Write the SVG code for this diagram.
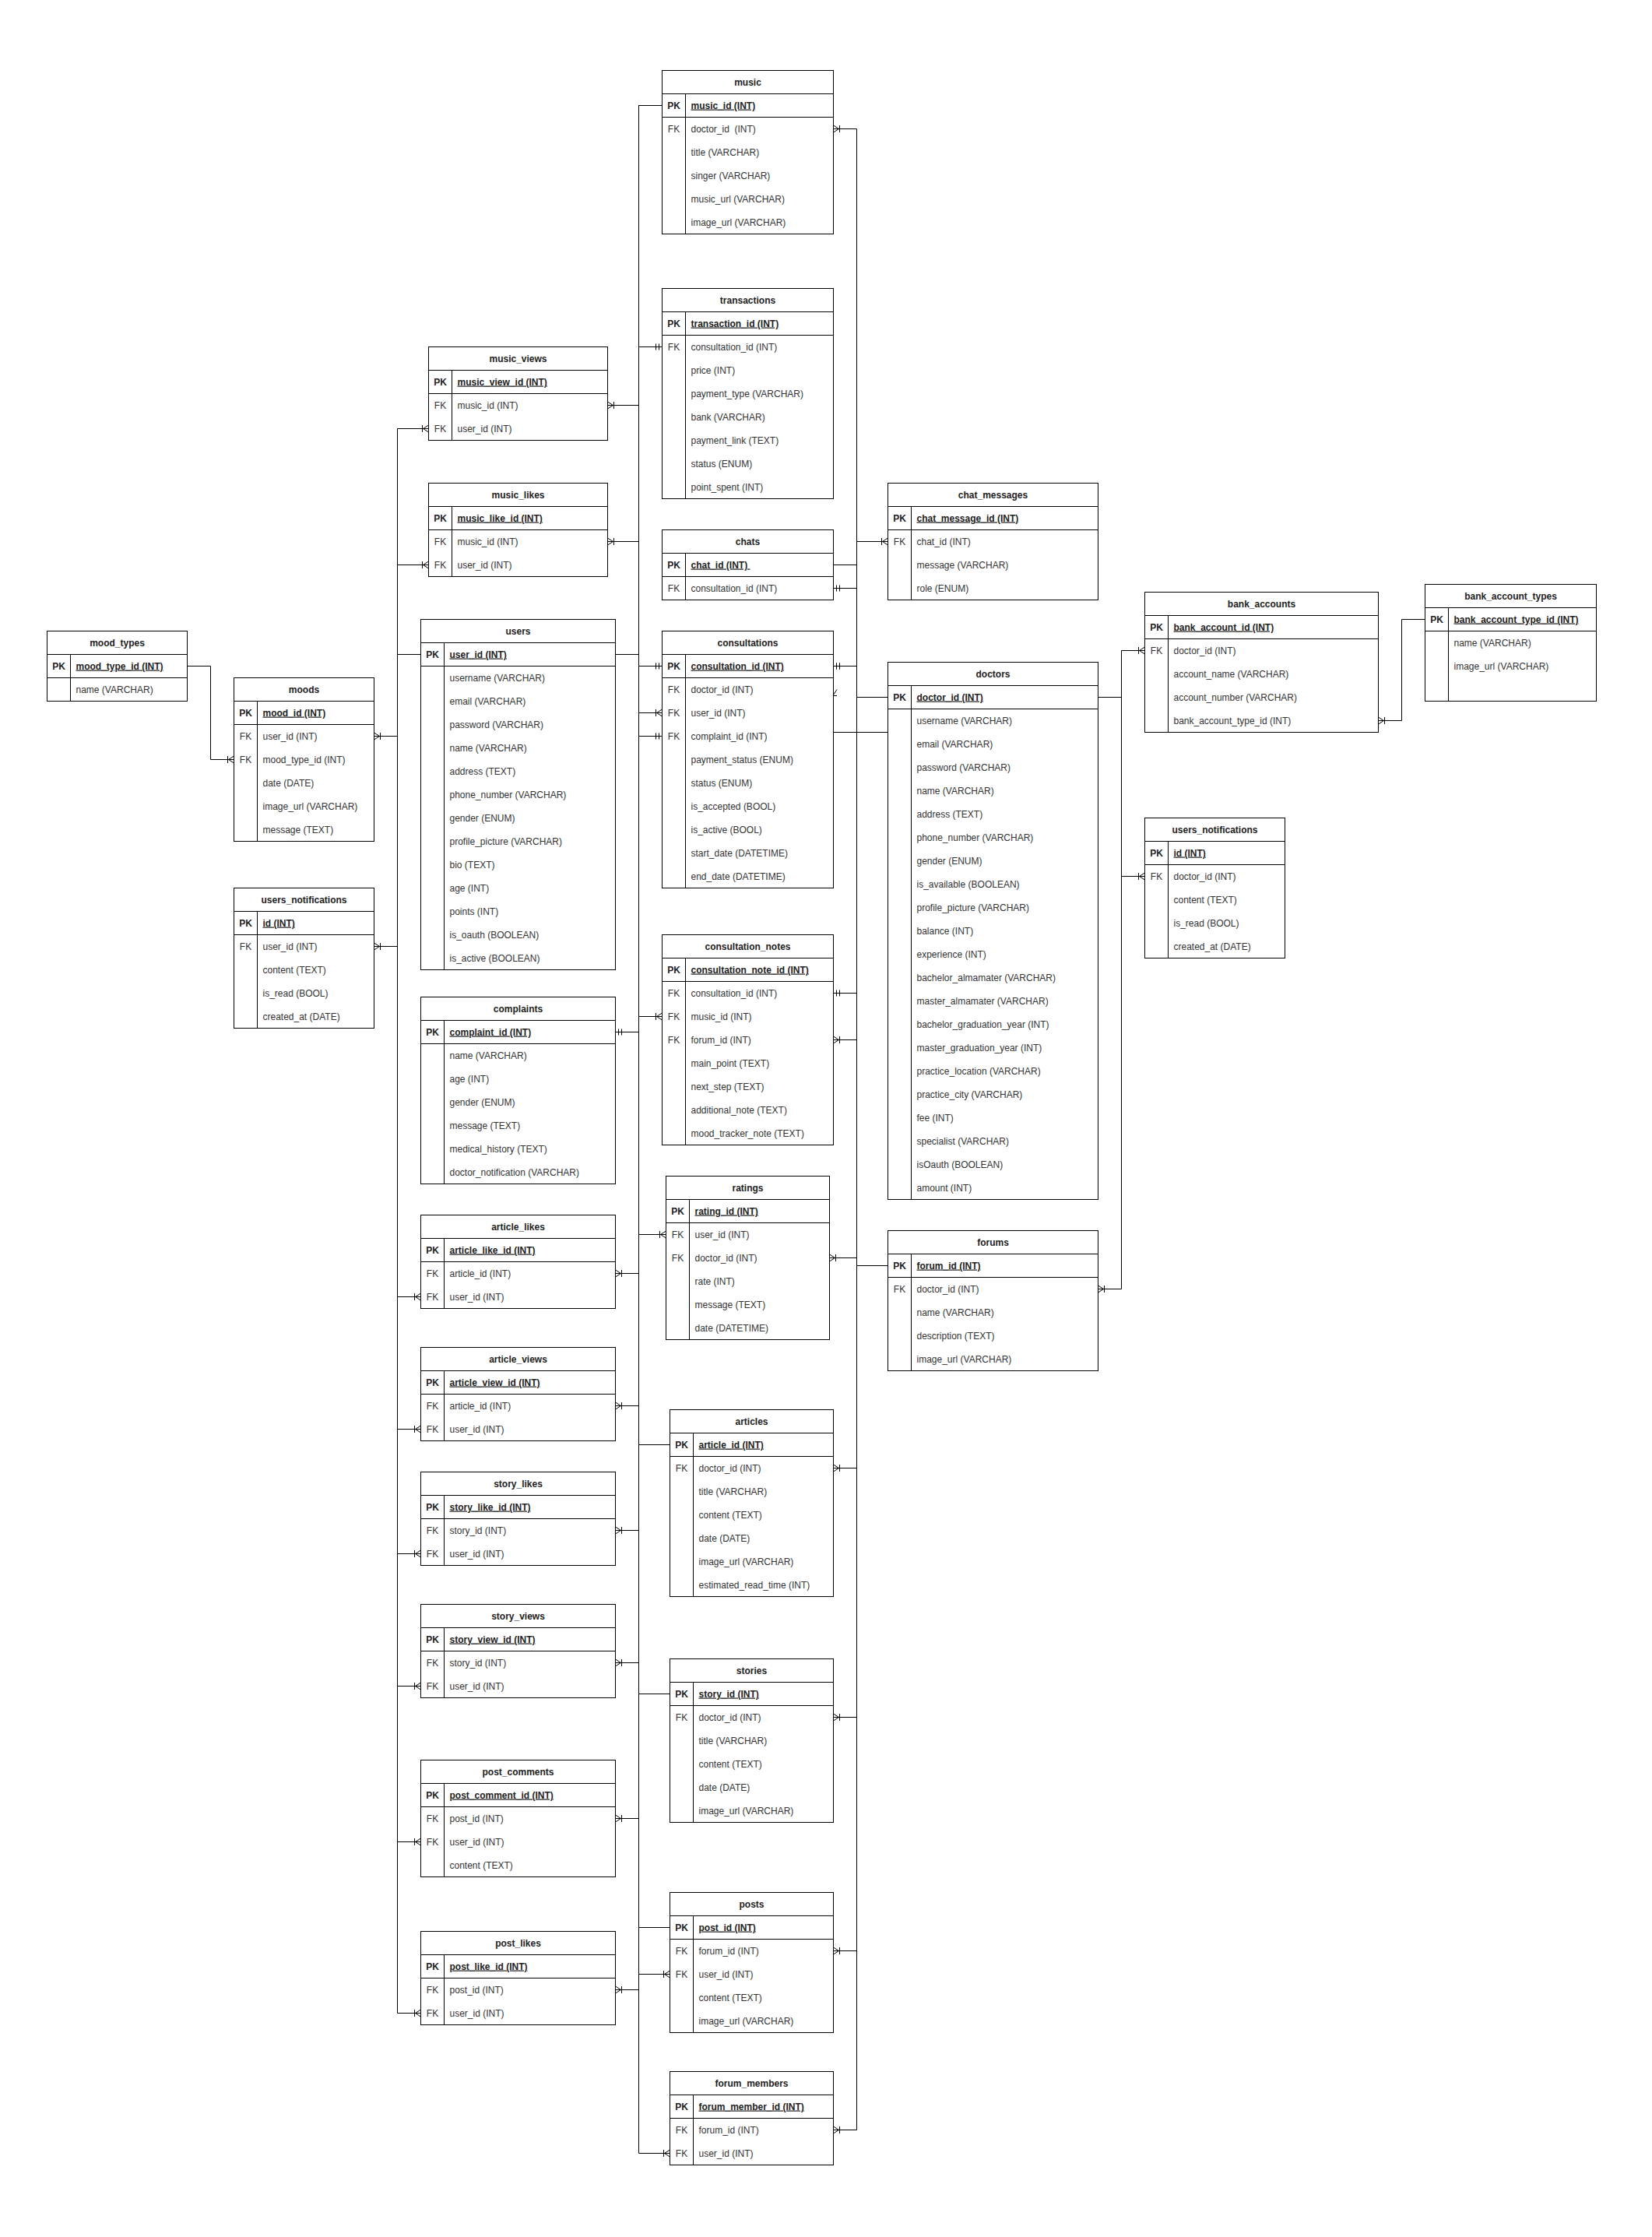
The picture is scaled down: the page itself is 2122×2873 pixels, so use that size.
<svg xmlns="http://www.w3.org/2000/svg" width="2122" height="2873" viewBox="0 0 2122 2873">
  <style>
    .box{fill:#fff;stroke:#000;stroke-width:1}
    .ln{fill:none;stroke:#000;stroke-width:1}
    .edge{fill:none;stroke:#000;stroke-width:1}
    text{font-family:"Liberation Sans",Arial,Helvetica,sans-serif;font-size:12px;fill:#333;white-space:pre}
    .title{font-weight:bold;text-anchor:middle;fill:#222}
    .k{text-anchor:middle}
    .kb{text-anchor:middle;font-weight:bold;fill:#222}
    .pk{font-weight:bold;text-decoration:underline;fill:#222}
  </style>
  <defs>
    <!-- crow's foot with a single bar: one-to-many end -->
    <marker id="many" markerUnits="userSpaceOnUse" markerWidth="24" markerHeight="24" viewBox="-12 -12 24 24" refX="0" refY="0" orient="auto" overflow="visible">
      <path d="M0,-4.5L-7,0L0,4.5M0,0H-7M-8,-4.5V4.5" fill="none" stroke="#000" stroke-width="1"/>
    </marker>
    <!-- double bar: mandatory one -->
    <marker id="one" markerUnits="userSpaceOnUse" markerWidth="24" markerHeight="24" viewBox="-12 -12 24 24" refX="0" refY="0" orient="auto-start-reverse" overflow="visible">
      <path d="M-4,-4V4M-8,-4V4" fill="none" stroke="#000" stroke-width="1"/>
    </marker>
  </defs>
  <rect width="2122" height="2873" fill="#fff"/>

  <!-- relationships -->
  <g id="connectors" transform="translate(0.5,0.5)">
    <!-- bus x=820 -->
    <path class="edge" d="M850,135H820V520H780" marker-end="url(#many)"/>
    <path class="edge" d="M850,135H820V695H780" marker-end="url(#many)"/>
    <path class="edge" d="M850,135H820V1305H850" marker-end="url(#many)"/>
    <path class="edge" d="M850,855H820V445H850" marker-start="url(#one)" marker-end="url(#one)"/>
    <path class="edge" d="M790,840H820V915H850" marker-end="url(#many)"/>
    <path class="edge" d="M790,1325H820V945H850" marker-start="url(#one)" marker-end="url(#one)"/>
    <path class="edge" d="M790,840H820V1585H855" marker-end="url(#many)"/>
    <path class="edge" d="M860,1855H820V1635H790" marker-end="url(#many)"/>
    <path class="edge" d="M860,1855H820V1805H790" marker-end="url(#many)"/>
    <path class="edge" d="M860,2175H820V1965H790" marker-end="url(#many)"/>
    <path class="edge" d="M860,2175H820V2135H790" marker-end="url(#many)"/>
    <path class="edge" d="M860,2475H820V2335H790" marker-end="url(#many)"/>
    <path class="edge" d="M860,2475H820V2555H790" marker-end="url(#many)"/>
    <path class="edge" d="M790,840H820V2535H860" marker-end="url(#many)"/>
    <path class="edge" d="M790,840H820V2765H860" marker-end="url(#many)"/>
    <!-- bus x=510 (users.user_id) -->
    <path class="edge" d="M540,840H510V550H550" marker-end="url(#many)"/>
    <path class="edge" d="M540,840H510V725H550" marker-end="url(#many)"/>
    <path class="edge" d="M540,840H510V945H480" marker-end="url(#many)"/>
    <path class="edge" d="M540,840H510V1215H480" marker-end="url(#many)"/>
    <path class="edge" d="M540,840H510V1665H540" marker-end="url(#many)"/>
    <path class="edge" d="M540,840H510V1835H540" marker-end="url(#many)"/>
    <path class="edge" d="M540,840H510V1995H540" marker-end="url(#many)"/>
    <path class="edge" d="M540,840H510V2165H540" marker-end="url(#many)"/>
    <path class="edge" d="M540,840H510V2365H540" marker-end="url(#many)"/>
    <path class="edge" d="M540,840H510V2585H540" marker-end="url(#many)"/>
    <!-- mood types -->
    <path class="edge" d="M240,855H270V975H300" marker-end="url(#many)"/>
    <!-- bus x=1100 -->
    <path class="edge" d="M1140,895H1100V165H1070" marker-end="url(#many)"/>
    <path class="edge" d="M1070,725H1100V695H1140" marker-end="url(#many)"/>
    <path class="edge" d="M1070,855H1100V755H1070" marker-start="url(#one)" marker-end="url(#one)"/>
    <path class="edge" d="M1070,855H1100V1275H1070" marker-start="url(#one)" marker-end="url(#one)"/>
    <path class="edge" d="M1140,940H1070V885" marker-end="url(#many)"/>
    <path class="edge" d="M1140,1625H1100V1335H1070" marker-end="url(#many)"/>
    <path class="edge" d="M1140,895H1100V1615H1065" marker-end="url(#many)"/>
    <path class="edge" d="M1140,895H1100V1885H1070" marker-end="url(#many)"/>
    <path class="edge" d="M1140,895H1100V2205H1070" marker-end="url(#many)"/>
    <path class="edge" d="M1140,1625H1100V2505H1070" marker-end="url(#many)"/>
    <path class="edge" d="M1140,1625H1100V2735H1070" marker-end="url(#many)"/>
    <!-- bus x=1440 (doctors.doctor_id) -->
    <path class="edge" d="M1410,895H1440V835H1470" marker-end="url(#many)"/>
    <path class="edge" d="M1410,895H1440V1125H1470" marker-end="url(#many)"/>
    <path class="edge" d="M1410,895H1440V1655H1410" marker-end="url(#many)"/>
    <!-- bank account types -->
    <path class="edge" d="M1830,795H1800V925H1770" marker-end="url(#many)"/>
  </g>

  <!-- tables -->
  <g id="music" transform="translate(850.5,90.5)">
    <rect class="box" width="220" height="210"/>
    <path class="ln" d="M0,30H220M0,60H220M30,30V210"/>
    <text class="title" x="110" y="19">music</text>
    <text class="kb" x="15" y="49">PK</text><text class="pk" x="37" y="49">music_id (INT)</text>
    <text class="k" x="15" y="79">FK</text><text x="37" y="79">doctor_id  (INT)</text>
    <text x="37" y="109">title (VARCHAR)</text>
    <text x="37" y="139">singer (VARCHAR)</text>
    <text x="37" y="169">music_url (VARCHAR)</text>
    <text x="37" y="199">image_url (VARCHAR)</text>
  </g>

  <g id="transactions" transform="translate(850.5,370.5)">
    <rect class="box" width="220" height="270"/>
    <path class="ln" d="M0,30H220M0,60H220M30,30V270"/>
    <text class="title" x="110" y="19">transactions</text>
    <text class="kb" x="15" y="49">PK</text><text class="pk" x="37" y="49">transaction_id (INT)</text>
    <text class="k" x="15" y="79">FK</text><text x="37" y="79">consultation_id (INT)</text>
    <text x="37" y="109">price (INT)</text>
    <text x="37" y="139">payment_type (VARCHAR)</text>
    <text x="37" y="169">bank (VARCHAR)</text>
    <text x="37" y="199">payment_link (TEXT)</text>
    <text x="37" y="229">status (ENUM)</text>
    <text x="37" y="259">point_spent (INT)</text>
  </g>

  <g id="music_views" transform="translate(550.5,445.5)">
    <rect class="box" width="230" height="120"/>
    <path class="ln" d="M0,30H230M0,60H230M30,30V120"/>
    <text class="title" x="115" y="19">music_views</text>
    <text class="kb" x="15" y="49">PK</text><text class="pk" x="37" y="49">music_view_id (INT)</text>
    <text class="k" x="15" y="79">FK</text><text x="37" y="79">music_id (INT)</text>
    <text class="k" x="15" y="109">FK</text><text x="37" y="109">user_id (INT)</text>
  </g>

  <g id="music_likes" transform="translate(550.5,620.5)">
    <rect class="box" width="230" height="120"/>
    <path class="ln" d="M0,30H230M0,60H230M30,30V120"/>
    <text class="title" x="115" y="19">music_likes</text>
    <text class="kb" x="15" y="49">PK</text><text class="pk" x="37" y="49">music_like_id (INT)</text>
    <text class="k" x="15" y="79">FK</text><text x="37" y="79">music_id (INT)</text>
    <text class="k" x="15" y="109">FK</text><text x="37" y="109">user_id (INT)</text>
  </g>

  <g id="chats" transform="translate(850.5,680.5)">
    <rect class="box" width="220" height="90"/>
    <path class="ln" d="M0,30H220M0,60H220M30,30V90"/>
    <text class="title" x="110" y="19">chats</text>
    <text class="kb" x="15" y="49">PK</text><text class="pk" x="37" y="49">chat_id (INT) </text>
    <text class="k" x="15" y="79">FK</text><text x="37" y="79">consultation_id (INT)</text>
  </g>

  <g id="chat_messages" transform="translate(1140.5,620.5)">
    <rect class="box" width="270" height="150"/>
    <path class="ln" d="M0,30H270M0,60H270M30,30V150"/>
    <text class="title" x="135" y="19">chat_messages</text>
    <text class="kb" x="15" y="49">PK</text><text class="pk" x="37" y="49">chat_message_id (INT)</text>
    <text class="k" x="15" y="79">FK</text><text x="37" y="79">chat_id (INT)</text>
    <text x="37" y="109">message (VARCHAR)</text>
    <text x="37" y="139">role (ENUM)</text>
  </g>

  <g id="mood_types" transform="translate(60.5,810.5)">
    <rect class="box" width="180" height="90"/>
    <path class="ln" d="M0,30H180M0,60H180M30,30V90"/>
    <text class="title" x="90" y="19">mood_types</text>
    <text class="kb" x="15" y="49">PK</text><text class="pk" x="37" y="49">mood_type_id (INT)</text>
    <text x="37" y="79">name (VARCHAR)</text>
  </g>

  <g id="moods" transform="translate(300.5,870.5)">
    <rect class="box" width="180" height="210"/>
    <path class="ln" d="M0,30H180M0,60H180M30,30V210"/>
    <text class="title" x="90" y="19">moods</text>
    <text class="kb" x="15" y="49">PK</text><text class="pk" x="37" y="49">mood_id (INT)</text>
    <text class="k" x="15" y="79">FK</text><text x="37" y="79">user_id (INT)</text>
    <text class="k" x="15" y="109">FK</text><text x="37" y="109">mood_type_id (INT)</text>
    <text x="37" y="139">date (DATE)</text>
    <text x="37" y="169">image_url (VARCHAR)</text>
    <text x="37" y="199">message (TEXT)</text>
  </g>

  <g id="users_notifications_user" transform="translate(300.5,1140.5)">
    <rect class="box" width="180" height="180"/>
    <path class="ln" d="M0,30H180M0,60H180M30,30V180"/>
    <text class="title" x="90" y="19">users_notifications</text>
    <text class="kb" x="15" y="49">PK</text><text class="pk" x="37" y="49">id (INT)</text>
    <text class="k" x="15" y="79">FK</text><text x="37" y="79">user_id (INT)</text>
    <text x="37" y="109">content (TEXT)</text>
    <text x="37" y="139">is_read (BOOL)</text>
    <text x="37" y="169">created_at (DATE)</text>
  </g>

  <g id="users" transform="translate(540.5,795.5)">
    <rect class="box" width="250" height="450"/>
    <path class="ln" d="M0,30H250M0,60H250M30,30V450"/>
    <text class="title" x="125" y="19">users</text>
    <text class="kb" x="15" y="49">PK</text><text class="pk" x="37" y="49">user_id (INT)</text>
    <text x="37" y="79">username (VARCHAR)</text>
    <text x="37" y="109">email (VARCHAR)</text>
    <text x="37" y="139">password (VARCHAR)</text>
    <text x="37" y="169">name (VARCHAR)</text>
    <text x="37" y="199">address (TEXT)</text>
    <text x="37" y="229">phone_number (VARCHAR)</text>
    <text x="37" y="259">gender (ENUM)</text>
    <text x="37" y="289">profile_picture (VARCHAR)</text>
    <text x="37" y="319">bio (TEXT)</text>
    <text x="37" y="349">age (INT)</text>
    <text x="37" y="379">points (INT)</text>
    <text x="37" y="409">is_oauth (BOOLEAN)</text>
    <text x="37" y="439">is_active (BOOLEAN)</text>
  </g>

  <g id="consultations" transform="translate(850.5,810.5)">
    <rect class="box" width="220" height="330"/>
    <path class="ln" d="M0,30H220M0,60H220M30,30V330"/>
    <text class="title" x="110" y="19">consultations</text>
    <text class="kb" x="15" y="49">PK</text><text class="pk" x="37" y="49">consultation_id (INT)</text>
    <text class="k" x="15" y="79">FK</text><text x="37" y="79">doctor_id (INT)</text>
    <text class="k" x="15" y="109">FK</text><text x="37" y="109">user_id (INT)</text>
    <text class="k" x="15" y="139">FK</text><text x="37" y="139">complaint_id (INT)</text>
    <text x="37" y="169">payment_status (ENUM)</text>
    <text x="37" y="199">status (ENUM)</text>
    <text x="37" y="229">is_accepted (BOOL)</text>
    <text x="37" y="259">is_active (BOOL)</text>
    <text x="37" y="289">start_date (DATETIME)</text>
    <text x="37" y="319">end_date (DATETIME)</text>
  </g>

  <g id="doctors" transform="translate(1140.5,850.5)">
    <rect class="box" width="270" height="690"/>
    <path class="ln" d="M0,30H270M0,60H270M30,30V690"/>
    <text class="title" x="135" y="19">doctors</text>
    <text class="kb" x="15" y="49">PK</text><text class="pk" x="37" y="49">doctor_id (INT)</text>
    <text x="37" y="79">username (VARCHAR)</text>
    <text x="37" y="109">email (VARCHAR)</text>
    <text x="37" y="139">password (VARCHAR)</text>
    <text x="37" y="169">name (VARCHAR)</text>
    <text x="37" y="199">address (TEXT)</text>
    <text x="37" y="229">phone_number (VARCHAR)</text>
    <text x="37" y="259">gender (ENUM)</text>
    <text x="37" y="289">is_available (BOOLEAN)</text>
    <text x="37" y="319">profile_picture (VARCHAR)</text>
    <text x="37" y="349">balance (INT)</text>
    <text x="37" y="379">experience (INT)</text>
    <text x="37" y="409">bachelor_almamater (VARCHAR)</text>
    <text x="37" y="439">master_almamater (VARCHAR)</text>
    <text x="37" y="469">bachelor_graduation_year (INT)</text>
    <text x="37" y="499">master_graduation_year (INT)</text>
    <text x="37" y="529">practice_location (VARCHAR)</text>
    <text x="37" y="559">practice_city (VARCHAR)</text>
    <text x="37" y="589">fee (INT)</text>
    <text x="37" y="619">specialist (VARCHAR)</text>
    <text x="37" y="649">isOauth (BOOLEAN)</text>
    <text x="37" y="679">amount (INT)</text>
  </g>

  <g id="bank_accounts" transform="translate(1470.5,760.5)">
    <rect class="box" width="300" height="180"/>
    <path class="ln" d="M0,30H300M0,60H300M30,30V180"/>
    <text class="title" x="150" y="19">bank_accounts</text>
    <text class="kb" x="15" y="49">PK</text><text class="pk" x="37" y="49">bank_account_id (INT)</text>
    <text class="k" x="15" y="79">FK</text><text x="37" y="79">doctor_id (INT)</text>
    <text x="37" y="109">account_name (VARCHAR)</text>
    <text x="37" y="139">account_number (VARCHAR)</text>
    <text x="37" y="169">bank_account_type_id (INT)</text>
  </g>

  <g id="bank_account_types" transform="translate(1830.5,750.5)">
    <rect class="box" width="220" height="150"/>
    <path class="ln" d="M0,30H220M0,60H220M30,30V150"/>
    <text class="title" x="110" y="19">bank_account_types</text>
    <text class="kb" x="15" y="49">PK</text><text class="pk" x="37" y="49">bank_account_type_id (INT)</text>
    <text x="37" y="79">name (VARCHAR)</text>
    <text x="37" y="109">image_url (VARCHAR)</text>
  </g>

  <g id="users_notifications_doctor" transform="translate(1470.5,1050.5)">
    <rect class="box" width="180" height="180"/>
    <path class="ln" d="M0,30H180M0,60H180M30,30V180"/>
    <text class="title" x="90" y="19">users_notifications</text>
    <text class="kb" x="15" y="49">PK</text><text class="pk" x="37" y="49">id (INT)</text>
    <text class="k" x="15" y="79">FK</text><text x="37" y="79">doctor_id (INT)</text>
    <text x="37" y="109">content (TEXT)</text>
    <text x="37" y="139">is_read (BOOL)</text>
    <text x="37" y="169">created_at (DATE)</text>
  </g>

  <g id="complaints" transform="translate(540.5,1280.5)">
    <rect class="box" width="250" height="240"/>
    <path class="ln" d="M0,30H250M0,60H250M30,30V240"/>
    <text class="title" x="125" y="19">complaints</text>
    <text class="kb" x="15" y="49">PK</text><text class="pk" x="37" y="49">complaint_id (INT)</text>
    <text x="37" y="79">name (VARCHAR)</text>
    <text x="37" y="109">age (INT)</text>
    <text x="37" y="139">gender (ENUM)</text>
    <text x="37" y="169">message (TEXT)</text>
    <text x="37" y="199">medical_history (TEXT)</text>
    <text x="37" y="229">doctor_notification (VARCHAR)</text>
  </g>

  <g id="consultation_notes" transform="translate(850.5,1200.5)">
    <rect class="box" width="220" height="270"/>
    <path class="ln" d="M0,30H220M0,60H220M30,30V270"/>
    <text class="title" x="110" y="19">consultation_notes</text>
    <text class="kb" x="15" y="49">PK</text><text class="pk" x="37" y="49">consultation_note_id (INT)</text>
    <text class="k" x="15" y="79">FK</text><text x="37" y="79">consultation_id (INT)</text>
    <text class="k" x="15" y="109">FK</text><text x="37" y="109">music_id (INT)</text>
    <text class="k" x="15" y="139">FK</text><text x="37" y="139">forum_id (INT)</text>
    <text x="37" y="169">main_point (TEXT)</text>
    <text x="37" y="199">next_step (TEXT)</text>
    <text x="37" y="229">additional_note (TEXT)</text>
    <text x="37" y="259">mood_tracker_note (TEXT)</text>
  </g>

  <g id="ratings" transform="translate(855.5,1510.5)">
    <rect class="box" width="210" height="210"/>
    <path class="ln" d="M0,30H210M0,60H210M30,30V210"/>
    <text class="title" x="105" y="19">ratings</text>
    <text class="kb" x="15" y="49">PK</text><text class="pk" x="37" y="49">rating_id (INT)</text>
    <text class="k" x="15" y="79">FK</text><text x="37" y="79">user_id (INT)</text>
    <text class="k" x="15" y="109">FK</text><text x="37" y="109">doctor_id (INT)</text>
    <text x="37" y="139">rate (INT)</text>
    <text x="37" y="169">message (TEXT)</text>
    <text x="37" y="199">date (DATETIME)</text>
  </g>

  <g id="forums" transform="translate(1140.5,1580.5)">
    <rect class="box" width="270" height="180"/>
    <path class="ln" d="M0,30H270M0,60H270M30,30V180"/>
    <text class="title" x="135" y="19">forums</text>
    <text class="kb" x="15" y="49">PK</text><text class="pk" x="37" y="49">forum_id (INT)</text>
    <text class="k" x="15" y="79">FK</text><text x="37" y="79">doctor_id (INT)</text>
    <text x="37" y="109">name (VARCHAR)</text>
    <text x="37" y="139">description (TEXT)</text>
    <text x="37" y="169">image_url (VARCHAR)</text>
  </g>

  <g id="article_likes" transform="translate(540.5,1560.5)">
    <rect class="box" width="250" height="120"/>
    <path class="ln" d="M0,30H250M0,60H250M30,30V120"/>
    <text class="title" x="125" y="19">article_likes</text>
    <text class="kb" x="15" y="49">PK</text><text class="pk" x="37" y="49">article_like_id (INT)</text>
    <text class="k" x="15" y="79">FK</text><text x="37" y="79">article_id (INT)</text>
    <text class="k" x="15" y="109">FK</text><text x="37" y="109">user_id (INT)</text>
  </g>

  <g id="article_views" transform="translate(540.5,1730.5)">
    <rect class="box" width="250" height="120"/>
    <path class="ln" d="M0,30H250M0,60H250M30,30V120"/>
    <text class="title" x="125" y="19">article_views</text>
    <text class="kb" x="15" y="49">PK</text><text class="pk" x="37" y="49">article_view_id (INT)</text>
    <text class="k" x="15" y="79">FK</text><text x="37" y="79">article_id (INT)</text>
    <text class="k" x="15" y="109">FK</text><text x="37" y="109">user_id (INT)</text>
  </g>

  <g id="articles" transform="translate(860.5,1810.5)">
    <rect class="box" width="210" height="240"/>
    <path class="ln" d="M0,30H210M0,60H210M30,30V240"/>
    <text class="title" x="105" y="19">articles</text>
    <text class="kb" x="15" y="49">PK</text><text class="pk" x="37" y="49">article_id (INT)</text>
    <text class="k" x="15" y="79">FK</text><text x="37" y="79">doctor_id (INT)</text>
    <text x="37" y="109">title (VARCHAR)</text>
    <text x="37" y="139">content (TEXT)</text>
    <text x="37" y="169">date (DATE)</text>
    <text x="37" y="199">image_url (VARCHAR)</text>
    <text x="37" y="229">estimated_read_time (INT)</text>
  </g>

  <g id="story_likes" transform="translate(540.5,1890.5)">
    <rect class="box" width="250" height="120"/>
    <path class="ln" d="M0,30H250M0,60H250M30,30V120"/>
    <text class="title" x="125" y="19">story_likes</text>
    <text class="kb" x="15" y="49">PK</text><text class="pk" x="37" y="49">story_like_id (INT)</text>
    <text class="k" x="15" y="79">FK</text><text x="37" y="79">story_id (INT)</text>
    <text class="k" x="15" y="109">FK</text><text x="37" y="109">user_id (INT)</text>
  </g>

  <g id="story_views" transform="translate(540.5,2060.5)">
    <rect class="box" width="250" height="120"/>
    <path class="ln" d="M0,30H250M0,60H250M30,30V120"/>
    <text class="title" x="125" y="19">story_views</text>
    <text class="kb" x="15" y="49">PK</text><text class="pk" x="37" y="49">story_view_id (INT)</text>
    <text class="k" x="15" y="79">FK</text><text x="37" y="79">story_id (INT)</text>
    <text class="k" x="15" y="109">FK</text><text x="37" y="109">user_id (INT)</text>
  </g>

  <g id="stories" transform="translate(860.5,2130.5)">
    <rect class="box" width="210" height="210"/>
    <path class="ln" d="M0,30H210M0,60H210M30,30V210"/>
    <text class="title" x="105" y="19">stories</text>
    <text class="kb" x="15" y="49">PK</text><text class="pk" x="37" y="49">story_id (INT)</text>
    <text class="k" x="15" y="79">FK</text><text x="37" y="79">doctor_id (INT)</text>
    <text x="37" y="109">title (VARCHAR)</text>
    <text x="37" y="139">content (TEXT)</text>
    <text x="37" y="169">date (DATE)</text>
    <text x="37" y="199">image_url (VARCHAR)</text>
  </g>

  <g id="post_comments" transform="translate(540.5,2260.5)">
    <rect class="box" width="250" height="150"/>
    <path class="ln" d="M0,30H250M0,60H250M30,30V150"/>
    <text class="title" x="125" y="19">post_comments</text>
    <text class="kb" x="15" y="49">PK</text><text class="pk" x="37" y="49">post_comment_id (INT)</text>
    <text class="k" x="15" y="79">FK</text><text x="37" y="79">post_id (INT)</text>
    <text class="k" x="15" y="109">FK</text><text x="37" y="109">user_id (INT)</text>
    <text x="37" y="139">content (TEXT)</text>
  </g>

  <g id="posts" transform="translate(860.5,2430.5)">
    <rect class="box" width="210" height="180"/>
    <path class="ln" d="M0,30H210M0,60H210M30,30V180"/>
    <text class="title" x="105" y="19">posts</text>
    <text class="kb" x="15" y="49">PK</text><text class="pk" x="37" y="49">post_id (INT)</text>
    <text class="k" x="15" y="79">FK</text><text x="37" y="79">forum_id (INT)</text>
    <text class="k" x="15" y="109">FK</text><text x="37" y="109">user_id (INT)</text>
    <text x="37" y="139">content (TEXT)</text>
    <text x="37" y="169">image_url (VARCHAR)</text>
  </g>

  <g id="post_likes" transform="translate(540.5,2480.5)">
    <rect class="box" width="250" height="120"/>
    <path class="ln" d="M0,30H250M0,60H250M30,30V120"/>
    <text class="title" x="125" y="19">post_likes</text>
    <text class="kb" x="15" y="49">PK</text><text class="pk" x="37" y="49">post_like_id (INT)</text>
    <text class="k" x="15" y="79">FK</text><text x="37" y="79">post_id (INT)</text>
    <text class="k" x="15" y="109">FK</text><text x="37" y="109">user_id (INT)</text>
  </g>

  <g id="forum_members" transform="translate(860.5,2660.5)">
    <rect class="box" width="210" height="120"/>
    <path class="ln" d="M0,30H210M0,60H210M30,30V120"/>
    <text class="title" x="105" y="19">forum_members</text>
    <text class="kb" x="15" y="49">PK</text><text class="pk" x="37" y="49">forum_member_id (INT)</text>
    <text class="k" x="15" y="79">FK</text><text x="37" y="79">forum_id (INT)</text>
    <text class="k" x="15" y="109">FK</text><text x="37" y="109">user_id (INT)</text>
  </g>
</svg>
